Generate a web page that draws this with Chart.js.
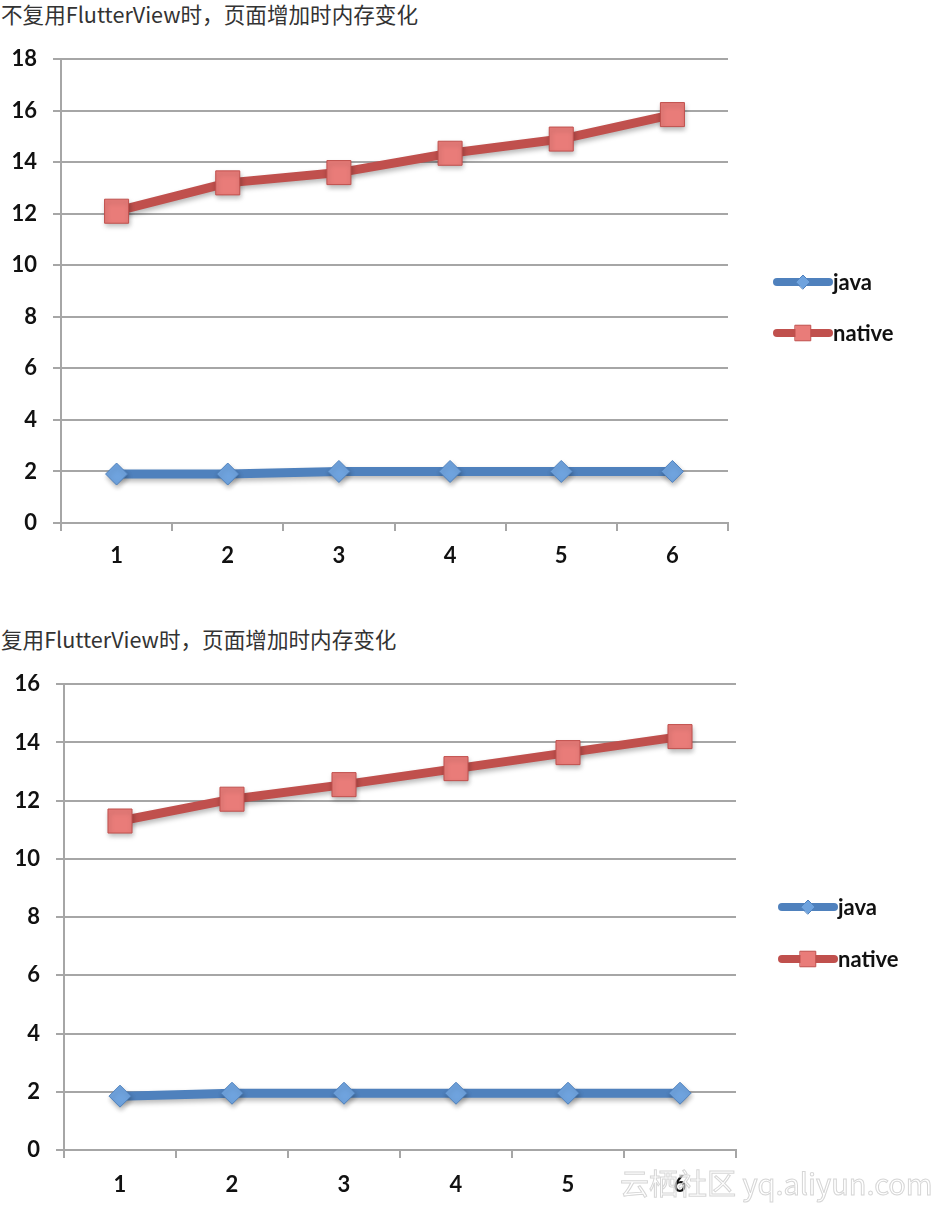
<!DOCTYPE html>
<html><head><meta charset="utf-8">
<script src="https://cdn.jsdelivr.net/npm/chart.js@4/dist/chart.umd.min.js"></script>
<style>
html,body{margin:0;padding:0;background:#fff}
body{width:940px;height:1210px;position:relative;overflow:hidden;font-family:"Noto Sans CJK SC","Noto Sans",sans-serif}
.title{position:absolute;left:1px;font-size:21.6px;line-height:28px;color:#333;white-space:nowrap;z-index:4}
.wrap{position:absolute;left:0;width:940px}
.wm{position:absolute;left:620px;top:1164px;font-family:"Noto Sans CJK SC",sans-serif;font-size:29px;line-height:36px;color:rgba(255,255,255,0.4);-webkit-text-stroke:1px #d6d6d6;white-space:nowrap;z-index:5}
</style></head>
<body>
<div class="title" id="t1" style="top:0px"></div>
<div class="wrap" style="top:30px;height:540px"><canvas id="c1" width="940" height="540"></canvas></div>
<div class="title" id="t2" style="top:625px"></div>
<div class="wrap" style="top:655px;height:555px"><canvas id="c2" width="940" height="555"></canvas></div>
<div class="wm" id="wm"></div>
<script>
// ---- data ----
const titles = ['不复用FlutterView时，页面增加时内存变化', '复用FlutterView时，页面增加时内存变化'];
const watermark = '云栖社区 yq.aliyun.com';
const categories = ['1', '2', '3', '4', '5', '6'];
const seriesNames = ['java', 'native'];
const chart1Java = [1.9, 1.9, 2.0, 2.0, 2.0, 2.0];
const chart1Native = [12.1, 13.2, 13.6, 14.35, 14.9, 15.85];
const chart2Java = [1.85, 1.95, 1.95, 1.95, 1.95, 1.95];
const chart2Native = [11.3, 12.05, 12.55, 13.1, 13.65, 14.2];
const yTicks1 = [0, 2, 4, 6, 8, 10, 12, 14, 16, 18];
const yTicks2 = [0, 2, 4, 6, 8, 10, 12, 14, 16];

document.getElementById('t1').textContent = titles[0];
document.getElementById('t2').textContent = titles[1];
document.getElementById('wm').textContent = watermark;

const BLUE = '#4f81bd', RED = '#c0504d';
const BLUE_FILL = '#6fa3de', RED_FILL = '#e97c79';
const GRID = '#a6a6a6';
const TICK_FONT = {family: 'Lato, "Open Sans", sans-serif', size: 22, weight: 'bold'};

const shadowPlugin = {
  id: 'shadow',
  beforeDatasetDraw(chart) {
    const c = chart.ctx; c.save();
    c.shadowColor = 'rgba(0,0,0,0.28)'; c.shadowBlur = 5; c.shadowOffsetX = 1; c.shadowOffsetY = 3;
  },
  afterDatasetDraw(chart) { chart.ctx.restore(); }
};

const legendPlugin = {
  id: 'customLegend',
  afterDraw(chart, args, opts) {
    const c = chart.ctx;
    chart.data.datasets.forEach((ds, i) => {
      const y = opts.y + i * opts.gap;
      const x0 = opts.x, x1 = opts.x + opts.len;
      const cx = (x0 + x1) / 2;
      c.save();
      c.lineCap = 'round';
      c.strokeStyle = ds.borderColor; c.lineWidth = 8;
      c.beginPath(); c.moveTo(x0, y); c.lineTo(x1, y); c.stroke();
      c.fillStyle = ds.pointBackgroundColor; c.strokeStyle = ds.pointBorderColor; c.lineWidth = 1;
      Chart.helpers.drawPoint(c, {pointStyle: ds.pointStyle, radius: ds.pointStyle === 'rect' ? 11 : 7, borderWidth: 1}, cx, y);
      c.fillStyle = '#111';
      c.font = 'bold 22px Lato, "Open Sans", sans-serif';
      c.textBaseline = 'middle'; c.textAlign = 'left';
      c.fillText(ds.label, x1 + 4, y + 1);
      c.restore();
    });
  }
};

function makeChart(id, javaData, nativeData, yTicks, geom) {
  const ctx = document.getElementById(id);
  return new Chart(ctx, {
    type: 'line',
    data: {
      labels: categories,
      datasets: [
        {label: seriesNames[0], data: javaData, borderColor: BLUE, backgroundColor: BLUE,
         borderWidth: 9, tension: 0, pointStyle: 'rectRot', pointRadius: 11,
         pointBackgroundColor: BLUE_FILL, pointBorderColor: BLUE, pointBorderWidth: 1,
         borderJoinStyle: 'round', borderCapStyle: 'round'},
        {label: seriesNames[1], data: nativeData, borderColor: RED, backgroundColor: RED,
         borderWidth: 9, tension: 0, pointStyle: 'rect', pointRadius: 17,
         pointBackgroundColor: RED_FILL, pointBorderColor: RED, pointBorderWidth: 1,
         borderJoinStyle: 'round', borderCapStyle: 'round'}
      ]
    },
    options: {
      responsive: false, animation: false, devicePixelRatio: 1,
      layout: {padding: {left: 0, right: geom.right, top: geom.top, bottom: 0}},
      plugins: {
        legend: {display: false}, tooltip: {enabled: false},
        customLegend: {x: geom.lx, y: geom.ly, gap: geom.lgap, len: geom.llen}
      },
      scales: {
        x: {
          offset: true,
          grid: {offset: true, drawOnChartArea: false, color: GRID, lineWidth: 2, tickLength: 8},
          border: {color: GRID, width: 2},
          ticks: {font: TICK_FONT, color: '#111', padding: geom.xpad, maxRotation: 0},
          afterFit: s => { s.height = geom.xh; }
        },
        y: {
          min: yTicks[0], max: yTicks[yTicks.length - 1],
          afterBuildTicks: s => { s.ticks = yTicks.map(v => ({value: v})); },
          grid: {color: GRID, lineWidth: 2, tickLength: 8},
          border: {color: GRID, width: 2},
          ticks: {font: TICK_FONT, color: '#111', padding: 16},
          afterFit: s => { s.width = geom.yw; }
        }
      }
    },
    plugins: [shadowPlugin, legendPlugin]
  });
}

makeChart('c1', chart1Java, chart1Native, yTicks1,
  {right: 212, top: 8, xh: 47, yw: 61, xpad: 12, lx: 777, ly: 252, lgap: 51, llen: 52});
makeChart('c2', chart2Java, chart2Native, yTicks2,
  {right: 204, top: 8, xh: 60, yw: 64, xpad: 14, lx: 782, ly: 252, lgap: 52, llen: 52});
</script>
</body></html>
